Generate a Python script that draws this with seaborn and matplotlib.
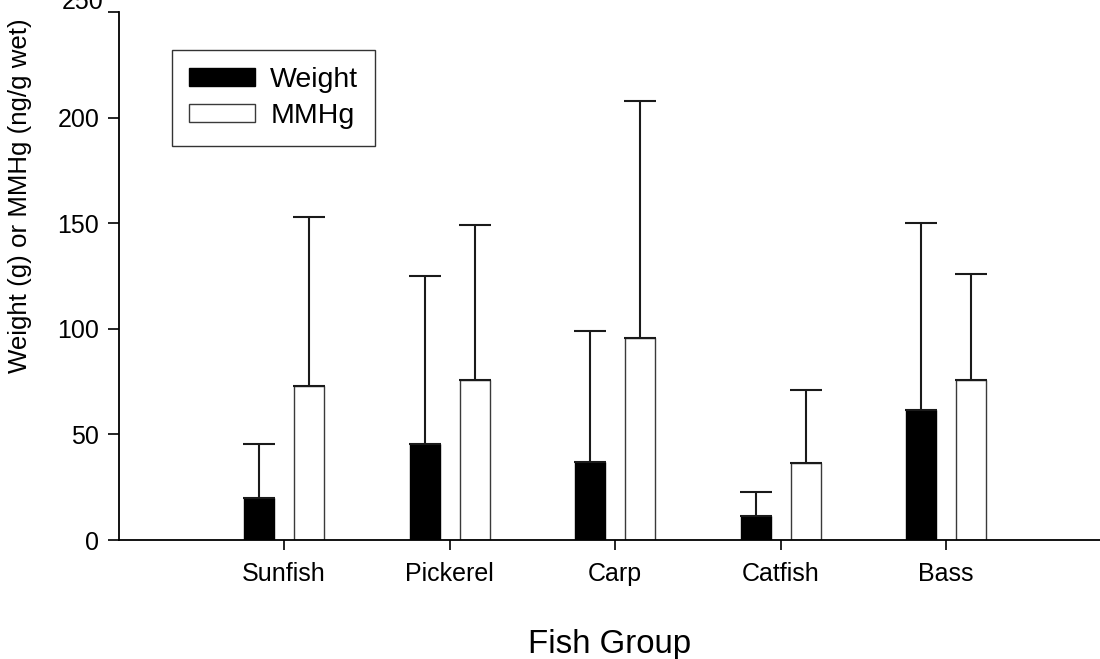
import numpy as np
import pandas as pd
import matplotlib
matplotlib.use("Agg")
import matplotlib.pyplot as plt
import seaborn as sns
from matplotlib.patches import Patch

# data
groups = ["Sunfish", "Pickerel", "Carp", "Catfish", "Bass"]
weight = [20.0, 45.4, 36.9, 11.2, 61.5]
weight_err = [25.3, 79.5, 62.2, 11.3, 88.5]
mmhg = [73.1, 75.6, 95.6, 36.5, 75.8]
mmhg_err = [79.6, 73.5, 112.1, 34.3, 50.3]
series = ["Weight", "MMHg"]
yticks = [0, 50, 100, 150, 200, 250]

df = pd.DataFrame({
    "group": groups * 2,
    "series": ["Weight"] * len(groups) + ["MMHg"] * len(groups),
    "value": weight + mmhg,
})

sns.set_style("ticks")
plt.rcParams["font.family"] = ["Liberation Sans", "DejaVu Sans"]
plt.rcParams["text.color"] = "black"
plt.rcParams["axes.labelcolor"] = "black"

fig = plt.figure(figsize=(11, 6.59), dpi=100)
ax = fig.add_axes([118.7 / 1100, 119 / 659, 1 - 118.7 / 1100, 528 / 659])

sns.barplot(data=df, x="group", y="value", hue="series", order=groups,
            hue_order=series, palette={"Weight": "black", "MMHg": "white"},
            width=0.604, gap=0.4, errorbar=None, legend=False, ax=ax)

# edges + upper-only error bars, placed from the drawn bars
errs = {"Weight": weight_err, "MMHg": mmhg_err}
bars = ax.patches[:2 * len(groups)]
for i, name in enumerate(series):
    for j in range(len(groups)):
        p = bars[i * len(groups) + j]
        p.set_edgecolor("black" if name == "Weight" else "#3a3a3a")
        p.set_linewidth(1.0)
        xc = p.get_x() + p.get_width() / 2
        top = p.get_height()
        ax.errorbar(xc, top, yerr=[[0], [errs[name][j]]], fmt="none",
                    ecolor="#1a1a1a", elinewidth=1.5, capsize=11.5,
                    capthick=1.5, zorder=1)

ax.set_xlim(-1, 4.93)
ax.set_ylim(0, 250)
ax.set_yticks(yticks)
# top label sits higher than its tick, partly past the figure edge (as in the reference)
ax.set_yticklabels([str(t) for t in yticks[:-1]] + [""])
ax.annotate(str(yticks[-1]), xy=(0, yticks[-1]), xycoords=("axes fraction", "data"),
            xytext=(-11, 7), textcoords="offset points", ha="right", va="center",
            fontsize=18, color="black")
sns.despine(ax=ax)
for s in ["left", "bottom"]:
    ax.spines[s].set_linewidth(1.3)
    ax.spines[s].set_color("black")

ax.tick_params(axis="y", direction="out", length=8, width=1.2, pad=6,
               labelsize=18, colors="black")
ax.tick_params(axis="x", direction="out", length=7, width=1.2, pad=9,
               labelsize=18, colors="black")

ax.set_xlabel("Fish Group", fontsize=23.8, labelpad=31, color="black")
ax.set_ylabel("Weight (g) or MMHg (ng/g wet)", fontsize=18.6, color="black")
ax.yaxis.set_label_coords(-0.088, (540 - 196) / 528)

handles = [Patch(facecolor="black", edgecolor="black", label="Weight"),
           Patch(facecolor="white", edgecolor="#3a3a3a", label="MMHg")]
leg = ax.legend(handles=handles, loc="upper left",
                bbox_to_anchor=(0.0543, (540 - 50) / 528), bbox_transform=ax.transAxes,
                borderaxespad=0, fontsize=20.5, frameon=True, fancybox=False,
                handlelength=2.3, handleheight=0.55, handletextpad=0.55,
                labelspacing=0.35, borderpad=0.6, labelcolor="black")
leg.get_frame().set_edgecolor("black")
leg.get_frame().set_linewidth(1.0)

fig.savefig("out.png", dpi=100)
